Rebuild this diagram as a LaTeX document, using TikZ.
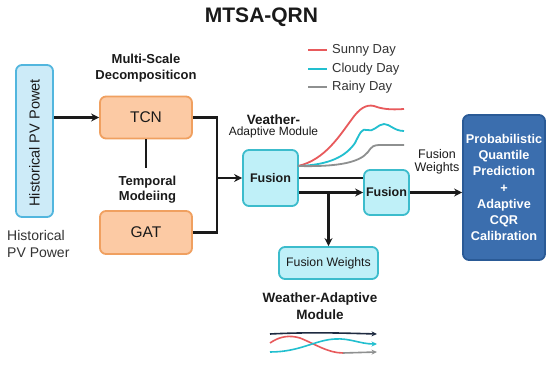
\documentclass[tikz,border=0pt]{standalone}
\usepackage{fontspec}
\setmainfont{Liberation Sans}
\usetikzlibrary{arrows.meta}
\definecolor{txt}{HTML}{1A1A1A}
\definecolor{orfill}{HTML}{FCCAA4}
\definecolor{orline}{HTML}{F0A060}
\definecolor{cyfill}{HTML}{BFF0F8}
\definecolor{cyline}{HTML}{3CBCCC}
\definecolor{hbfill}{HTML}{CDEBF8}
\definecolor{hbline}{HTML}{52B6DE}
\definecolor{bbfill}{HTML}{3B6EAE}
\definecolor{bbline}{HTML}{2A5A96}
\definecolor{sunny}{HTML}{E85A5C}
\definecolor{cloudy}{HTML}{22BFCF}
\definecolor{rainy}{HTML}{8E9090}
\definecolor{navy}{HTML}{1E2A40}
\definecolor{legtxt}{HTML}{333333}
\tikzset{
  boxbase/.style={rounded corners=6pt, line width=1.8pt, inner sep=0pt, text=txt},
  orbox/.style={boxbase, fill=orfill, draw=orline, minimum width=92pt, font=\fontsize{15.5}{18}\selectfont},
  cybox/.style={boxbase, fill=cyfill, draw=cyline},
  conn/.style={line width=2.2pt, draw=txt},
  arr/.style={conn, -{Stealth[length=8pt,width=8pt]}},
  curve/.style={line width=1.8pt},
  mini/.style={line width=1.6pt, -{Stealth[length=5.5pt,width=5pt]}},
  lbl/.style={text=txt, align=center, inner sep=0pt},
}
\begin{document}
\begin{tikzpicture}[x=1pt,y=-1pt]
\useasboundingbox (0,0) rectangle (550,366);
\fill[white] (0,0) rectangle (550,366);

% title
\node[lbl, font=\fontsize{21}{24}\bfseries] (title) at (261.5,17) {MTSA-QRN};

% left input box
\node[boxbase, fill=hbfill, draw=hbline, minimum width=37pt, minimum height=152pt] (hist) at (34.5,141) {};
\node[lbl, rotate=90, font=\fontsize{14.5}{17}\selectfont] (histtxt) at (34.5,143) {Historical PV Powet};
\node[lbl, align=left, anchor=north west, text=legtxt, font=\fontsize{14}{17}\selectfont] (hplabel) at (7,230) {Historical\\PV Power};

% decomposition
\node[lbl, font=\fontsize{13}{16}\bfseries] (mslabel) at (146,68.5) {Multi-Scale\\Decompositicon};
\node[orbox, minimum height=42pt] (tcn) at (146,117.5) {TCN};
\node[lbl, font=\fontsize{13}{15.5}\bfseries] (tmlabel) at (147.5,189.5) {Temporal\\Modeiing};
\node[orbox, minimum height=43pt] (gat) at (146,232.5) {GAT};
\coordinate (tcnend) at (146,168);
\draw[conn] (tcn.south) -- (tcnend);

% fusion blocks
\node[cybox, minimum width=55pt, minimum height=56pt, font=\fontsize{12.5}{15}\bfseries] (fus1) at (270.5,178) {Fusion};
\node[cybox, minimum width=45pt, minimum height=45pt, font=\fontsize{12.5}{15}\bfseries] (fus2) at (386.5,192.5) {Fusion};
\node[cybox, minimum width=99pt, minimum height=32pt, font=\fontsize{12.3}{15}\selectfont] (fw) at (328.5,263) {Fusion Weights};
\node[lbl] (valabel) at (273.5,126) {{\fontsize{13.5}{15}\bfseries Veather-}\\[-1pt]{\fontsize{12}{14}\selectfont Adaptive Module}};

% output box
\node[boxbase, fill=bbfill, draw=bbline, minimum width=82pt, minimum height=145pt, text=white, align=center, font=\fontsize{12.7}{16.2}\bfseries] (out) at (504,187.5)
  {Probabilistic\\Quantile\\Prediction\\+\\Adaptive\\CQR\\Calibration};
\node[lbl, font=\fontsize{12.5}{13}\selectfont] (fwlabel) at (437,162) {Fusion\\Weights};

% connectors
\draw[arr] (hist.east |- tcn.west) -- (tcn.west);
\coordinate (join) at (217,178);
\draw[conn] (gat.east) -| (join);
\draw[arr] (tcn.east) -| (join) -- (fus1.west);
\draw[conn] (fus1.east) -- (fus1.east -| fus2.west);
\coordinate (f1b) at (fus1.east |- fus2.west);
\draw[arr] (f1b) -- (fus2.west);
\draw[arr] (fw.north |- fus2.west) -- (fw.north);
\draw[arr] (fus2.east) -- (out.west |- fus2.east);

% weather curves
\coordinate (cstart) at (298,166);
\draw[curve, sunny] (cstart) .. controls (325,160) and (340,135) .. (352,119) .. controls (359,109) and (366,104) .. (374,106) .. controls (382,109) and (390,110) .. (404,109);
\draw[curve, cloudy] (cstart) .. controls (330,165) and (346,156) .. (355,143) .. controls (360,133) and (362,128) .. (367,130) .. controls (373,133) and (378,124) .. (384,124) .. controls (390,124) and (394,131) .. (404,131);
\draw[curve, rainy] (cstart) .. controls (340,167) and (360,162) .. (368,152) .. controls (372,146) and (374,145) .. (380,145) -- (404,145);

% legend
\draw[curve, sunny] (308,50) -- (327,50);
\draw[curve, cloudy] (308,69) -- (327,69);
\draw[curve, rainy] (308,87) -- (327,87);
\node[lbl, anchor=west, text=legtxt, font=\fontsize{13}{15}\selectfont] (lsun) at (332,50) {Sunny Day};
\node[lbl, anchor=west, text=legtxt, font=\fontsize{13}{15}\selectfont] (lcld) at (332,69) {Cloudy Day};
\node[lbl, anchor=west, text=legtxt, font=\fontsize{13}{15}\selectfont] (lrny) at (332,87) {Rainy Day};

% bottom module
\node[lbl, font=\fontsize{13.5}{16.5}\bfseries] (wamlabel) at (320,306) {Weather-Adaptive\\Module};
\draw[mini, navy] (270,334) .. controls (310,332) and (340,333) .. (377,334);
\draw[line width=1.6pt, sunny] (270,343) .. controls (280,336) and (290,335) .. (300,338) .. controls (315,344) and (328,353) .. (343,353);
\draw[mini, rainy] (343,353) -- (377,352);
\draw[mini, cloudy] (270,352) .. controls (300,352) and (315,340) .. (335,339) .. controls (350,338) and (360,344) .. (377,344);
\end{tikzpicture}
\end{document}
